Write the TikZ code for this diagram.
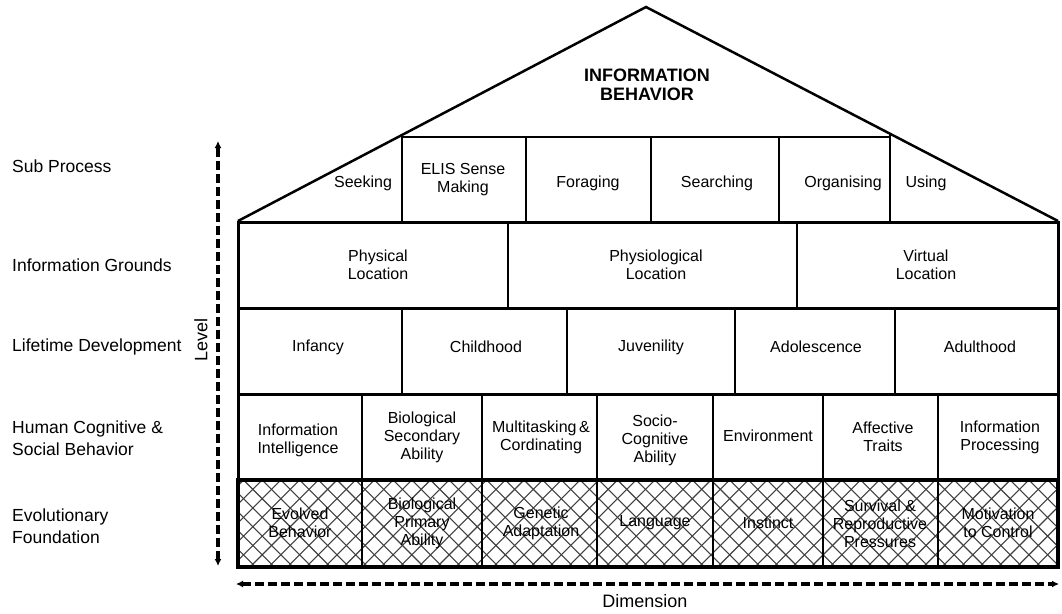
\documentclass[tikz,border=0pt]{standalone}
\usepackage{fontspec}
\setmainfont{Liberation Sans}
\usetikzlibrary{arrows.meta}
\begin{document}
\begin{tikzpicture}[x=1pt,y=-1pt,
  cell/.style={align=center,font=\fontsize{16}{18}\selectfont,inner sep=0pt},
  side/.style={anchor=west,align=left,font=\fontsize{17.5}{21.5}\selectfont,inner sep=0pt},
  outer/.style={line width=3pt},
  divider/.style={line width=2.3pt},
  roofline/.style={line width=2.5pt,line join=miter},
  hatch/.style={line width=1.1pt,draw=black!75},
  axis/.style={line width=3.5pt,dash pattern=on 9pt off 4pt,{Latex[length=7pt,width=7pt]}-{Latex[length=7pt,width=7pt]}}]
\useasboundingbox (0,0) rectangle (1062,613);
% roof
\draw[roofline] (238,221) -- (646,7) -- (1058,221);
\draw[line width=2pt] (402,137) -- (890,137);
\draw[divider] (402,135) -- (402,221);
\foreach \x in {526,651,779} \draw[divider] (\x,137) -- (\x,221);
\draw[divider] (890,134) -- (890,221);
\node[font=\bfseries\fontsize{18}{18.5}\selectfont,align=center,inner sep=0pt] (title) at (647,85) {INFORMATION\\BEHAVIOR};
% row 1
\draw[outer] (238,222) rectangle (1058,308);
\foreach \x in {508,797} \draw[divider] (\x,222) -- (\x,308);
% row 2
\draw[outer] (238,308) rectangle (1058,394);
\foreach \x in {402,567,735,895} \draw[divider] (\x,308) -- (\x,394);
% row 3
\draw[outer] (238,394) rectangle (1058,480);
\foreach \x in {362,482,597,713,823,938} \draw[divider] (\x,394) -- (\x,480);
% row 4 hatched
\begin{scope}
  \clip (238,480) rectangle (1058,567);
  \foreach \c in {0,...,56} {
    \draw[hatch] ({150+\c*18.7},480) -- ++(87,87);
    \draw[hatch] ({150+\c*18.7},480) -- ++(-87,87);
  }
\end{scope}
\foreach \x in {362,482,597,713,823,938} \draw[line width=2.5pt] (\x,480) -- (\x,567);
\draw[line width=4.5pt] (238,480) rectangle (1058,567);
% sub process texts
\node[cell] (seek) at (363,183) {Seeking};
\node[cell] (elis) at (463,180) {ELIS Sense\\Making};
\node[cell] (forag) at (588,183) {Foraging};
\node[cell] (search) at (717,183) {Searching};
\node[cell] (organ) at (843,183) {Organising};
\node[cell] (using) at (926,183) {Using};
% row 1 texts
\node[cell] (phys) at (378,265) {Physical\\Location};
\node[cell] (physio) at (656,265) {Physiological\\Location};
\node[cell] (virt) at (926,265) {Virtual\\Location};
% row 2 texts
\node[cell] (inf) at (318,347) {Infancy};
\node[cell] (child) at (486,347) {Childhood};
\node[cell] (juv) at (651,347) {Juvenility};
\node[cell] (adol) at (816,347) {Adolescence};
\node[cell] (adult) at (980,347) {Adulthood};
% row 3 texts
\node[cell] (ii) at (298,440) {Information\\Intelligence};
\node[cell] (bsa) at (422,437) {Biological\\Secondary\\Ability};
\node[cell] (mc) at (541,437) {Multitasking\,\&\\Cordinating};
\node[cell] (sca) at (655,440) {Socio-\\Cognitive\\Ability};
\node[cell] (env) at (768,436) {Environment};
\node[cell] (aff) at (883,437) {Affective\\Traits};
\node[cell] (ip) at (1000,437) {Information\\Processing};
% row 4 texts
\node[cell] (evo) at (300,523) {Evolved\\Behavior};
\node[cell] (bpa) at (422,523) {Biological\\Primary\\Ability};
\node[cell] (gen) at (541,523) {Genetic\\Adaptation};
\node[cell] (lang) at (655,523) {Language};
\node[cell] (inst) at (768,523) {Instinct};
\node[cell] (surv) at (880,524) {Survival \&\\Reproductive\\Pressures};
\node[cell] (mot) at (998,523) {Motivation\\to Control};
% side labels
\node[side] (l1) at (12,166) {Sub Process};
\node[side] (l2) at (12,265) {Information Grounds};
\node[side] (l3) at (12,347) {Lifetime Development};
\node[side] (l4) at (12,438) {Human Cognitive \&\\Social Behavior};
\node[side] (l5) at (12,526) {Evolutionary\\Foundation};
% axes
\coordinate (vtop) at (218,141);
\coordinate (vbot) at (218,566);
\coordinate (hl) at (236,584);
\coordinate (hr) at (1059,584);
\draw[axis] (vbot) -- (vtop);
\draw[axis] (hl) -- (hr);
\node[font=\fontsize{18}{20}\selectfont,rotate=90,inner sep=0pt] (level) at (201,340) {Level};
\node[font=\fontsize{18}{20}\selectfont,inner sep=0pt] (dim) at (645,601) {Dimension};
\end{tikzpicture}
\end{document}
